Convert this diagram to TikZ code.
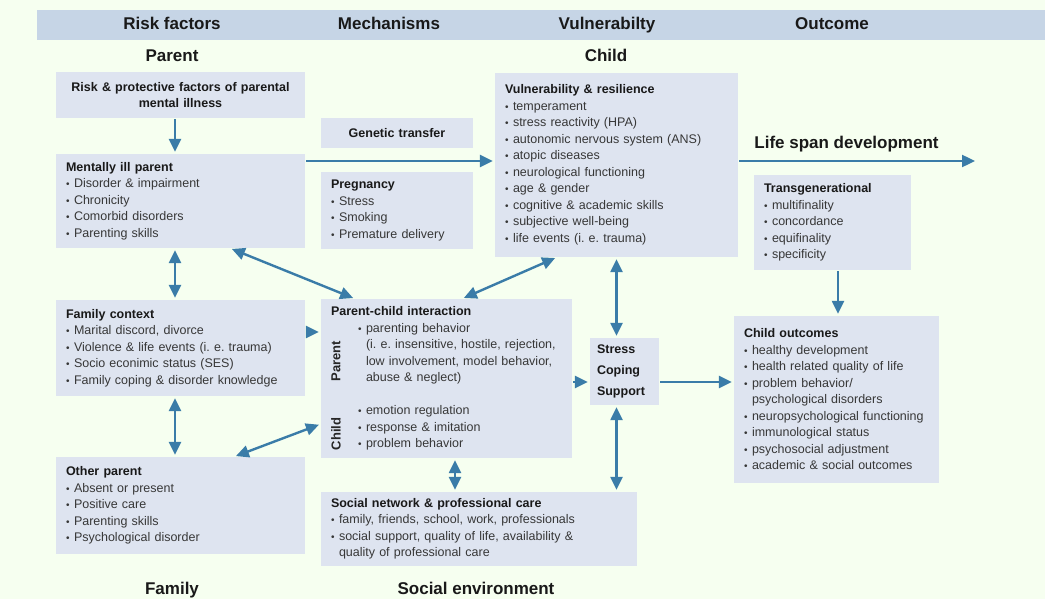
\documentclass[tikz,border=0pt]{standalone}
\usepackage{fontspec}
\setmainfont{Liberation Sans}
\usepackage{graphicx}
\usetikzlibrary{arrows.meta,positioning,calc}
\definecolor{PageBg}{RGB}{246,255,240}
\definecolor{BandBlue}{RGB}{198,213,230}
\definecolor{BoxBlue}{RGB}{222,228,240}
\definecolor{LinkBlue}{RGB}{58,124,168}
\definecolor{BodyGray}{RGB}{55,55,55}
\frenchspacing
\newcommand{\itm}{\makebox[8pt][l]{\scalebox{0.8}{\textbullet}}}
\newcommand{\cont}{\hspace*{8pt}}
\newcommand{\boxtitle}[1]{{\bfseries\color{black!90}#1}}
\tikzset{
  infobox/.style={fill=BoxBlue, inner xsep=10pt, inner ysep=3pt, align=left, text=BodyGray, font=\fontsize{12.5}{16.5}\selectfont},
  headtext/.style={anchor=base, font=\fontsize{17}{20}\selectfont\bfseries, text=black!90},
  sidelabel/.style={rotate=90, font=\fontsize{13}{15}\selectfont\bfseries, text=black!85},
  arr/.style={-{Triangle[length=13pt,width=12pt]}, line width=2.4pt, draw=LinkBlue, shorten >=2pt, shorten <=1pt},
  darr/.style={{Triangle[length=13pt,width=12pt]}-{Triangle[length=13pt,width=12pt]}, line width=2.4pt, draw=LinkBlue, shorten >=2pt, shorten <=2pt}
}
\begin{document}
\begin{tikzpicture}[x=1pt, y=-1pt]
% page and header band
\fill[PageBg] (0,0) rectangle (1045,599);
\useasboundingbox (0,0) rectangle (1045,599);
\fill[BandBlue] (37,10) rectangle (1045,40);
\node[headtext] (hrisk) at (172,30) {Risk factors};
\node[headtext] (hmech) at (389,30) {Mechanisms};
\node[headtext] (hvuln) at (607,30) {Vulnerabilty};
\node[headtext] (hout) at (832,30) {Outcome};
\node[headtext] (hparent) at (172,62) {Parent};
\node[headtext] (hchild) at (606,62) {Child};
\node[headtext] (hfamily) at (172,594) {Family};
\node[headtext] (hsocial) at (476,594) {Social environment};

% parent column
\node[infobox, align=center, minimum width=249pt, minimum height=46pt, text width=229pt] (risk) at (180.5,95)
  {\boxtitle{Risk \& protective factors of parental}\\\boxtitle{mental illness}};
\node[infobox, minimum width=249pt, minimum height=94pt, text width=229pt] (mip) at (180.5,201)
  {\boxtitle{Mentally ill parent}\\
   \itm Disorder \& impairment\\
   \itm Chronicity\\
   \itm Comorbid disorders\\
   \itm Parenting skills};
\node[infobox, minimum width=249pt, minimum height=96pt, text width=229pt] (family) at (180.5,348)
  {\boxtitle{Family context}\\
   \itm Marital discord, divorce\\
   \itm Violence \& life events (i. e. trauma)\\
   \itm Socio econimic status (SES)\\
   \itm Family coping \& disorder knowledge};
\node[infobox, minimum width=249pt, minimum height=97pt, text width=229pt] (other) at (180.5,505.5)
  {\boxtitle{Other parent}\\
   \itm Absent or present\\
   \itm Positive care\\
   \itm Parenting skills\\
   \itm Psychological disorder};

% mechanisms
\node[infobox, align=center, minimum width=152pt, minimum height=30pt, text width=132pt] (gen) at (397,133)
  {\boxtitle{Genetic transfer}};
\node[infobox, minimum width=152pt, minimum height=77pt, text width=132pt] (preg) at (397,210.5)
  {\boxtitle{Pregnancy}\\
   \itm Stress\\
   \itm Smoking\\
   \itm Premature delivery};
\node[infobox, minimum width=251pt, minimum height=159pt, text width=231pt] (pci) at (446.5,378.5)
  {\boxtitle{Parent-child interaction}\\
   \hspace*{27pt}\itm parenting behavior\\
   \hspace*{35pt}(i. e. insensitive, hostile, rejection,\\
   \hspace*{35pt}low involvement, model behavior,\\
   \hspace*{35pt}abuse \& neglect)\\[16.5pt]
   \hspace*{27pt}\itm emotion regulation\\
   \hspace*{27pt}\itm response \& imitation\\
   \hspace*{27pt}\itm problem behavior};
\node[sidelabel] (parentlbl) at (336,361) {Parent};
\node[sidelabel] (childlbl) at (336,434) {Child};
\node[infobox, minimum width=316pt, minimum height=74pt, text width=296pt] (social) at (479,529)
  {\boxtitle{Social network \& professional care}\\
   \itm family, friends, school, work, professionals\\
   \itm social support, quality of life, availability \&\\
   \cont quality of professional care};

% child
\node[infobox, minimum width=243pt, minimum height=184pt, text width=223pt] (vuln) at (616.5,165)
  {\boxtitle{Vulnerability \& resilience}\\
   \itm temperament\\
   \itm stress reactivity (HPA)\\
   \itm autonomic nervous system (ANS)\\
   \itm atopic diseases\\
   \itm neurological functioning\\
   \itm age \& gender\\
   \itm cognitive \& academic skills\\
   \itm subjective well-being\\
   \itm life events (i. e. trauma)};
\node[infobox, inner xsep=7pt, minimum width=69pt, minimum height=67pt, text width=55pt,
  font=\fontsize{12.5}{21}\selectfont\bfseries, text=black!90] (stress) at (624.5,371.5)
  {Stress\\Coping\\Support};

% outcome
\node[headtext] (lifespan) at (846.5,149) {Life span development};
\coordinate (lifeend) at (975,161);
\node[infobox, minimum width=157pt, minimum height=95pt, text width=137pt] (trans) at (832.5,222.5)
  {\boxtitle{Transgenerational}\\
   \itm multifinality\\
   \itm concordance\\
   \itm equifinality\\
   \itm specificity};
\node[infobox, minimum width=205pt, minimum height=167pt, text width=185pt] (outc) at (836.5,399.5)
  {\boxtitle{Child outcomes}\\
   \itm healthy development\\
   \itm health related quality of life\\
   \itm problem behavior/\\
   \cont psychological disorders\\
   \itm neuropsychological functioning\\
   \itm immunological status\\
   \itm psychosocial adjustment\\
   \itm academic \& social outcomes};

% connectors
\draw[arr] ([xshift=-5.5pt]risk.south) -- ([xshift=-5.5pt]mip.north);
\draw[darr] ([xshift=-5.5pt]mip.south) -- ([xshift=-5.5pt]family.north);
\draw[darr] ([xshift=-5.5pt]family.south) -- ([xshift=-5.5pt]other.north);
\draw[arr] (mip.east |- lifeend) -- (vuln.west |- lifeend);
\draw[arr, shorten >=0pt] (vuln.east |- lifeend) -- (lifeend);
\draw[darr] ([xshift=49.5pt]mip.south) -- ([xshift=-91.5pt]pci.north);
\draw[darr] ([xshift=-59.5pt]vuln.south) -- ([xshift=15.5pt]pci.north);
\draw[arr] ([yshift=16pt]family.east) -- ([yshift=16pt]family.east -| pci.west);
\draw[darr] ([xshift=53.5pt]other.north) -- ([yshift=-45.5pt]pci.west);
\draw[darr] (vuln.south) -- ([xshift=-8pt]stress.north);
\draw[darr] ([xshift=-8pt]stress.south) -- ([xshift=-8pt]stress.south |- social.north);
\draw[darr] ([xshift=8.5pt]pci.south) -- ([xshift=8.5pt]pci.south |- social.north);
\draw[arr] ([yshift=-3.5pt]pci.east) -- ([yshift=-3.5pt]pci.east -| stress.west);
\draw[arr] ([yshift=-10.5pt]stress.east) -- ([yshift=-10.5pt]stress.east -| outc.west);
\draw[arr] ([xshift=5.5pt]trans.south) -- ([xshift=5.5pt]trans.south |- outc.north);
\end{tikzpicture}
\end{document}
